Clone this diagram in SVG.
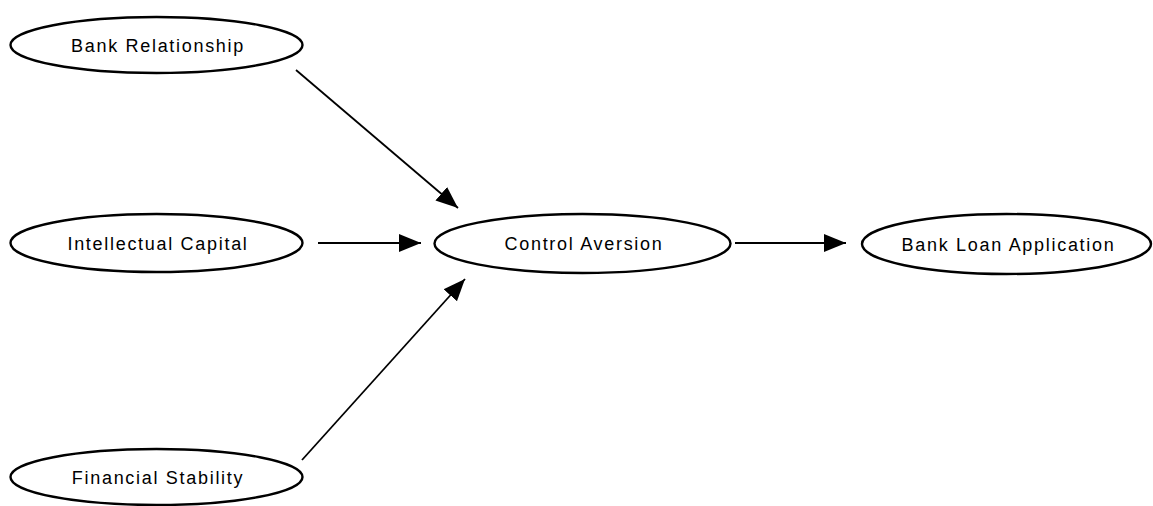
<svg xmlns="http://www.w3.org/2000/svg" width="1153" height="506" viewBox="0 0 1153 506">
<style>
.node ellipse{fill:#fff;stroke:#000;stroke-width:2.4}
.node text{font-family:"Liberation Sans",Arial,sans-serif;font-size:18px;letter-spacing:1.7px;text-anchor:middle;fill:#000}
.edges line{stroke:#000;stroke-width:1.8;marker-end:url(#arrow)}
</style>
<defs>
<marker id="arrow" markerUnits="userSpaceOnUse" markerWidth="24" markerHeight="20" refX="22" refY="9" orient="auto" viewBox="0 0 24 18">
<path d="M0,0 L22,9 L0,18 Z" fill="#000"/>
</marker>
</defs>
<rect width="1153" height="506" fill="#fff"/>
<g class="edges">
<line x1="296" y1="70" x2="458" y2="208"/>
<line x1="318" y1="243" x2="421" y2="243"/>
<line x1="302" y1="460" x2="465" y2="279"/>
<line x1="735" y1="243" x2="846" y2="243"/>
</g>
<g id="bank-relationship" class="node">
<ellipse cx="156.5" cy="45" rx="146" ry="28"/>
<text x="158" y="51.5">Bank Relationship</text>
</g>
<g id="intellectual-capital" class="node">
<ellipse cx="156.5" cy="243" rx="146" ry="29"/>
<text x="158" y="249.5">Intellectual Capital</text>
</g>
<g id="control-aversion" class="node">
<ellipse cx="582.5" cy="243.5" rx="148" ry="29.5"/>
<text x="584" y="250">Control Aversion</text>
</g>
<g id="bank-loan-application" class="node">
<ellipse cx="1006.5" cy="244" rx="144.5" ry="30"/>
<text x="1008.5" y="250.5">Bank Loan Application</text>
</g>
<g id="financial-stability" class="node">
<ellipse cx="156.5" cy="477" rx="146" ry="28"/>
<text x="158" y="483.5">Financial Stability</text>
</g>
</svg>
